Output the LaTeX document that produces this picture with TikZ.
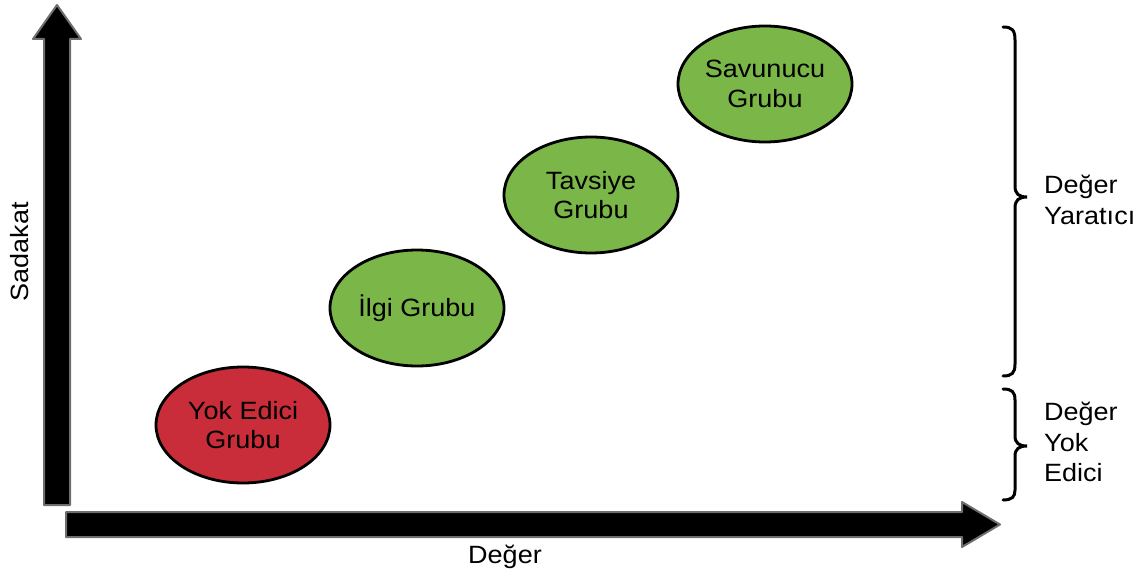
\documentclass[tikz,border=0pt]{standalone}
\usepackage{fontspec}
\setmainfont{Liberation Sans}[FakeStretch=1.08]
\usetikzlibrary{shapes.geometric}
\definecolor{grpgreen}{HTML}{7AB648}
\definecolor{grpred}{HTML}{C92D39}
\definecolor{arrowedge}{HTML}{6E6E6E}
\tikzset{
  group/.style={ellipse, draw=black, line width=2.8pt, minimum width=174pt,
    minimum height=116pt, inner sep=0pt, align=center,
    font=\fontsize{25}{29.5}\selectfont},
  goodgroup/.style={group, fill=grpgreen},
  badgroup/.style={group, fill=grpred},
  fatarrow/.style={fill=black, draw=arrowedge, line width=2pt, line join=round},
  bracepath/.style={draw=black, line width=3pt, line cap=round},
  label/.style={font=\fontsize{25}{30.5}\selectfont, inner sep=0pt}
}
\begin{document}
\begin{tikzpicture}[x=1pt, y=-1pt]
\useasboundingbox (0,0) rectangle (1145,577);
% axes
\draw[fatarrow] (44,505) -- (44,39) -- (33,39) -- (57,5) -- (81,39) -- (70,39) -- (70,505) -- cycle;
\draw[fatarrow] (66,512) -- (962,512) -- (962,502) -- (1000,524.5) -- (962,547) -- (962,537) -- (66,537) -- cycle;
\node[label, rotate=90] (ylab) at (20,252) {Sadakat};
\node[label] (xlab) at (505,557) {Değer};
% groups
\node[badgroup]  (yok)      at (243,425) {Yok Edici\\Grubu};
\node[goodgroup] (ilgi)     at (417,308) {İlgi Grubu};
\node[goodgroup] (tavsiye)  at (591,195) {Tavsiye\\Grubu};
\node[goodgroup] (savunucu) at (765,84)  {Savunucu\\Grubu};
% braces
\draw[bracepath] (1003,27) .. controls (1012,27) and (1015,30) .. (1015,40)
  -- (1015,186) .. controls (1015,194) and (1019,197) .. (1027,197)
  .. controls (1019,197) and (1015,200) .. (1015,208)
  -- (1015,364) .. controls (1015,373) and (1012,376) .. (1003,376);
\draw[bracepath] (1003,389) .. controls (1012,389) and (1015,392) .. (1015,400)
  -- (1015,436) .. controls (1015,443) and (1019,446) .. (1027,446)
  .. controls (1019,446) and (1015,449) .. (1015,456)
  -- (1015,490) .. controls (1015,497) and (1012,500) .. (1003,500);
\node[label, anchor=west, align=left] (create) at (1044,200) {Değer\\Yaratıcı};
\node[label, anchor=west, align=left] (destroy) at (1044,442) {Değer\\Yok\\Edici};
\end{tikzpicture}
\end{document}
